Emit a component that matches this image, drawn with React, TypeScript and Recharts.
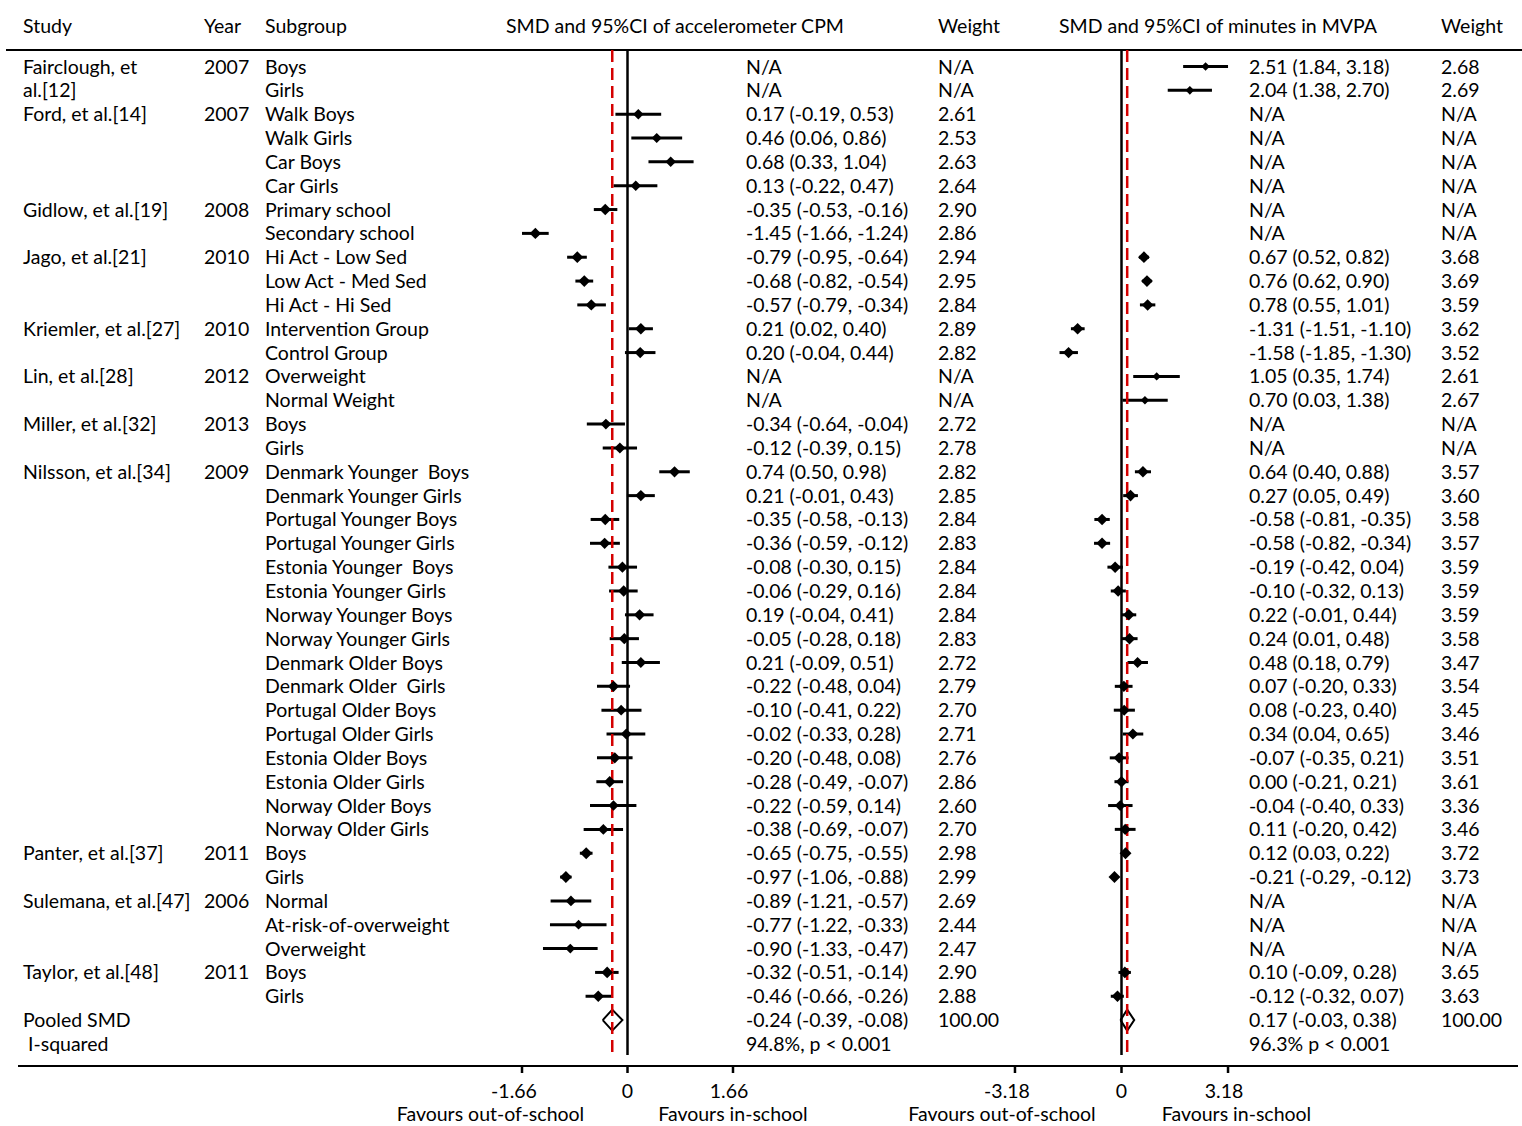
import React from 'react';
import { ComposedChart, Scatter, Line, XAxis, YAxis, ErrorBar, ReferenceLine } from 'recharts';

// ---------------- data ----------------
const headers = {
  study: 'Study',
  year: 'Year',
  subgroup: 'Subgroup',
  cpm: 'SMD and 95%CI of accelerometer CPM',
  weight: 'Weight',
  mvpa: 'SMD and 95%CI of minutes in MVPA',
};

const studies = [
  { lines: ['Fairclough, et', 'al.[12]'], year: '2007', row: 0 },
  { lines: ['Ford, et al.[14]'], year: '2007', row: 2 },
  { lines: ['Gidlow, et al.[19]'], year: '2008', row: 6 },
  { lines: ['Jago, et al.[21]'], year: '2010', row: 8 },
  { lines: ['Kriemler, et al.[27]'], year: '2010', row: 11 },
  { lines: ['Lin, et al.[28]'], year: '2012', row: 13 },
  { lines: ['Miller, et al.[32]'], year: '2013', row: 15 },
  { lines: ['Nilsson, et al.[34]'], year: '2009', row: 17 },
  { lines: ['Panter, et al.[37]'], year: '2011', row: 33 },
  { lines: ['Sulemana, et al.[47]'], year: '2006', row: 35 },
  { lines: ['Taylor, et al.[48]'], year: '2011', row: 38 },
];

const subgroups = [
  'Boys', 'Girls',
  'Walk Boys', 'Walk Girls', 'Car Boys', 'Car Girls',
  'Primary school', 'Secondary school',
  'Hi Act - Low Sed', 'Low Act - Med Sed', 'Hi Act - Hi Sed',
  'Intervention Group', 'Control Group',
  'Overweight', 'Normal Weight',
  'Boys', 'Girls',
  'Denmark Younger  Boys', 'Denmark Younger Girls', 'Portugal Younger Boys', 'Portugal Younger Girls',
  'Estonia Younger  Boys', 'Estonia Younger Girls', 'Norway Younger Boys', 'Norway Younger Girls',
  'Denmark Older Boys', 'Denmark Older  Girls', 'Portugal Older Boys', 'Portugal Older Girls',
  'Estonia Older Boys', 'Estonia Older Girls', 'Norway Older Boys', 'Norway Older Girls',
  'Boys', 'Girls',
  'Normal', 'At-risk-of-overweight', 'Overweight',
  'Boys', 'Girls',
];

const summaryLabels = ['Pooled SMD', ' I-squared'];

type Est = [number, number, number, number] | null; // [smd, lower, upper, weight]

const cpmRows: Est[] = [
  null, null,
  [0.17, -0.19, 0.53, 2.61],
  [0.46, 0.06, 0.86, 2.53],
  [0.68, 0.33, 1.04, 2.63],
  [0.13, -0.22, 0.47, 2.64],
  [-0.35, -0.53, -0.16, 2.90],
  [-1.45, -1.66, -1.24, 2.86],
  [-0.79, -0.95, -0.64, 2.94],
  [-0.68, -0.82, -0.54, 2.95],
  [-0.57, -0.79, -0.34, 2.84],
  [0.21, 0.02, 0.40, 2.89],
  [0.20, -0.04, 0.44, 2.82],
  null, null,
  [-0.34, -0.64, -0.04, 2.72],
  [-0.12, -0.39, 0.15, 2.78],
  [0.74, 0.50, 0.98, 2.82],
  [0.21, -0.01, 0.43, 2.85],
  [-0.35, -0.58, -0.13, 2.84],
  [-0.36, -0.59, -0.12, 2.83],
  [-0.08, -0.30, 0.15, 2.84],
  [-0.06, -0.29, 0.16, 2.84],
  [0.19, -0.04, 0.41, 2.84],
  [-0.05, -0.28, 0.18, 2.83],
  [0.21, -0.09, 0.51, 2.72],
  [-0.22, -0.48, 0.04, 2.79],
  [-0.10, -0.41, 0.22, 2.70],
  [-0.02, -0.33, 0.28, 2.71],
  [-0.20, -0.48, 0.08, 2.76],
  [-0.28, -0.49, -0.07, 2.86],
  [-0.22, -0.59, 0.14, 2.60],
  [-0.38, -0.69, -0.07, 2.70],
  [-0.65, -0.75, -0.55, 2.98],
  [-0.97, -1.06, -0.88, 2.99],
  [-0.89, -1.21, -0.57, 2.69],
  [-0.77, -1.22, -0.33, 2.44],
  [-0.90, -1.33, -0.47, 2.47],
  [-0.32, -0.51, -0.14, 2.90],
  [-0.46, -0.66, -0.26, 2.88],
];

const mvpaRows: Est[] = [
  [2.51, 1.84, 3.18, 2.68],
  [2.04, 1.38, 2.70, 2.69],
  null, null, null, null, null, null,
  [0.67, 0.52, 0.82, 3.68],
  [0.76, 0.62, 0.90, 3.69],
  [0.78, 0.55, 1.01, 3.59],
  [-1.31, -1.51, -1.10, 3.62],
  [-1.58, -1.85, -1.30, 3.52],
  [1.05, 0.35, 1.74, 2.61],
  [0.70, 0.03, 1.38, 2.67],
  null, null,
  [0.64, 0.40, 0.88, 3.57],
  [0.27, 0.05, 0.49, 3.60],
  [-0.58, -0.81, -0.35, 3.58],
  [-0.58, -0.82, -0.34, 3.57],
  [-0.19, -0.42, 0.04, 3.59],
  [-0.10, -0.32, 0.13, 3.59],
  [0.22, -0.01, 0.44, 3.59],
  [0.24, 0.01, 0.48, 3.58],
  [0.48, 0.18, 0.79, 3.47],
  [0.07, -0.20, 0.33, 3.54],
  [0.08, -0.23, 0.40, 3.45],
  [0.34, 0.04, 0.65, 3.46],
  [-0.07, -0.35, 0.21, 3.51],
  [0.00, -0.21, 0.21, 3.61],
  [-0.04, -0.40, 0.33, 3.36],
  [0.11, -0.20, 0.42, 3.46],
  [0.12, 0.03, 0.22, 3.72],
  [-0.21, -0.29, -0.12, 3.73],
  null, null, null,
  [0.10, -0.09, 0.28, 3.65],
  [-0.12, -0.32, 0.07, 3.63],
];

const cpmPooled: [number, number, number, number] = [-0.24, -0.39, -0.08, 100.0];
const mvpaPooled: [number, number, number, number] = [0.17, -0.03, 0.38, 100.0];
const cpmHet = '94.8%, p < 0.001';
const mvpaHet = '96.3% p < 0.001';

const cpmTicks = [-1.66, 0, 1.66];
const mvpaTicks = [-3.18, 0, 3.18];
const favourLabels = ['Favours out-of-school', 'Favours in-school'];

// ---------------- layout ----------------
const W = 1522;
const H = 1126;
const FONT = 'Lato, "Noto Sans", sans-serif';
const FS = 19.5;
const ROW0 = 66.5;
const ROWH = 23.84;
const TOP = 50;
const BOTTOM = 1066;
const XAXIS_H = 30;
const BASE = 7;
const NROWS = subgroups.length; // 40
const POOLED_ROW = NROWS;
const HET_ROW = NROWS + 1;
const yDomain: [number, number] = [(TOP - ROW0) / ROWH, (BOTTOM - ROW0) / ROWH];
const rowY = (r: number) => ROW0 + r * ROWH;
const RED = '#d40000';

const fmt = (v: number) => v.toFixed(2);
const estText = (e: Est) => (e ? `${fmt(e[0])} (${fmt(e[1])}, ${fmt(e[2])})` : 'N/A');
const wText = (e: Est) => (e ? fmt(e[3]) : 'N/A');

const makeDiamond = (k: number) => (props: any) => {
  const { cx, cy, payload } = props;
  if (cx == null || cy == null) return <g />;
  const h = k * payload.w;
  return (
    <polygon
      points={`${cx - h},${cy} ${cx},${cy - h} ${cx + h},${cy} ${cx},${cy + h}`}
      fill="#000"
      stroke="none"
    />
  );
};

const Tick = (props: any) => {
  const { x, y, payload } = props;
  const v = payload.value;
  const dx = v < 0 ? -8 : v > 0 ? -4 : 0;
  return (
    <text x={x + dx} y={y + 23} textAnchor="middle" fontFamily={FONT} fontSize={FS} fill="#000">
      {String(v)}
    </text>
  );
};

interface PanelProps {
  rows: Est[];
  pooled: [number, number, number, number];
  ticks: number[];
  domain: [number, number];
  plotLeft: number;
  plotRight: number;
  k: number;
}

function ForestPanel({ rows, pooled, ticks, domain, plotLeft, plotRight, k }: PanelProps) {
  const pts = rows
    .map((r, i) => (r ? { x: r[0], y: i, err: [r[0] - r[1], r[2] - r[0]], w: r[3] } : null))
    .filter(Boolean) as any[];
  const dh = 0.44;
  const dia = [
    { x: pooled[1], y: POOLED_ROW },
    { x: pooled[0], y: POOLED_ROW - dh },
    { x: pooled[2], y: POOLED_ROW },
    { x: pooled[0], y: POOLED_ROW + dh },
    { x: pooled[1], y: POOLED_ROW },
  ];
  const zeroEnd = (1055 - ROW0) / ROWH;
  const redEnd = (1052 - ROW0) / ROWH;
  return (
    <div style={{ position: 'absolute', left: 0, top: 0, pointerEvents: 'none' }}>
      <ComposedChart
        width={W}
        height={H}
        margin={{ top: TOP, bottom: H - BOTTOM - XAXIS_H, left: plotLeft, right: W - plotRight }}
      >
        <XAxis
          type="number"
          dataKey="x"
          domain={domain}
          ticks={ticks}
          interval={0}
          height={XAXIS_H}
          allowDataOverflow
          axisLine={false}
          tickSize={7}
          tickLine={{ stroke: '#000', strokeWidth: 2.5 }}
          tick={<Tick />}
        />
        <YAxis type="number" dataKey="y" domain={yDomain} reversed hide width={0} allowDataOverflow />
        <Scatter data={pts} shape={makeDiamond(k)} isAnimationActive={false}>
          <ErrorBar dataKey="err" direction="x" width={0} stroke="#000" strokeWidth={3} isAnimationActive={false} />
        </Scatter>
        <Line
          data={dia}
          dataKey="y"
          type="linear"
          stroke="#000"
          strokeWidth={2}
          dot={false}
          activeDot={false}
          isAnimationActive={false}
          strokeLinejoin="miter"
        />
        <ReferenceLine
          segment={[{ x: 0, y: yDomain[0] }, { x: 0, y: zeroEnd }]}
          stroke="#000"
          strokeWidth={2.5}
          ifOverflow="visible"
        />
        <ReferenceLine
          segment={[{ x: pooled[0], y: yDomain[0] }, { x: pooled[0], y: redEnd }]}
          stroke={RED}
          strokeWidth={2.5}
          strokeDasharray="12 6"
          ifOverflow="visible"
        />
      </ComposedChart>
    </div>
  );
}

const Txt = ({ x, y, children, anchor = 'start' }: any) => (
  <text
    x={x}
    y={y}
    textAnchor={anchor}
    fontFamily={FONT}
    fontSize={FS}
    fill="#000"
    style={{ whiteSpace: 'pre' }}
  >
    {children}
  </text>
);

const COL = { study: 23, year: 204, sub: 265, cpm: 746, cpmW: 938, mvpa: 1249, mvpaW: 1441 };

function TextLayer() {
  const hy = 33;
  const rb = (r: number) => rowY(r) + BASE;
  return (
    <svg width={W} height={H} style={{ position: 'absolute', left: 0, top: 0 }}>
      <Txt x={COL.study} y={hy}>{headers.study}</Txt>
      <Txt x={COL.year} y={hy}>{headers.year}</Txt>
      <Txt x={COL.sub} y={hy}>{headers.subgroup}</Txt>
      <Txt x={506} y={hy}>{headers.cpm}</Txt>
      <Txt x={COL.cpmW} y={hy}>{headers.weight}</Txt>
      <Txt x={1059} y={hy}>{headers.mvpa}</Txt>
      <Txt x={COL.mvpaW} y={hy}>{headers.weight}</Txt>

      <line x1={6} x2={1522} y1={TOP} y2={TOP} stroke="#000" strokeWidth={2} />
      <line x1={18} x2={1518} y1={BOTTOM} y2={BOTTOM} stroke="#000" strokeWidth={2} />

      {studies.map((s, i) => (
        <g key={i}>
          {s.lines.map((l, j) => (
            <Txt key={j} x={COL.study} y={rb(s.row + j)}>{l}</Txt>
          ))}
          <Txt x={COL.year} y={rb(s.row)}>{s.year}</Txt>
        </g>
      ))}
      {subgroups.map((s, i) => (
        <Txt key={i} x={COL.sub} y={rb(i)}>{s}</Txt>
      ))}
      {cpmRows.map((e, i) => (
        <g key={i}>
          <Txt x={COL.cpm} y={rb(i)}>{estText(e)}</Txt>
          <Txt x={COL.cpmW} y={rb(i)}>{wText(e)}</Txt>
        </g>
      ))}
      {mvpaRows.map((e, i) => (
        <g key={i}>
          <Txt x={COL.mvpa} y={rb(i)}>{estText(e)}</Txt>
          <Txt x={COL.mvpaW} y={rb(i)}>{wText(e)}</Txt>
        </g>
      ))}
      <Txt x={COL.study} y={rb(POOLED_ROW)}>{summaryLabels[0]}</Txt>
      <Txt x={COL.study} y={rb(HET_ROW)}>{summaryLabels[1]}</Txt>
      <Txt x={COL.cpm} y={rb(POOLED_ROW)}>{estText(cpmPooled)}</Txt>
      <Txt x={COL.cpmW} y={rb(POOLED_ROW)}>{wText(cpmPooled)}</Txt>
      <Txt x={COL.cpm} y={rb(HET_ROW)}>{cpmHet}</Txt>
      <Txt x={COL.mvpa} y={rb(POOLED_ROW)}>{estText(mvpaPooled)}</Txt>
      <Txt x={COL.mvpaW} y={rb(POOLED_ROW)}>{wText(mvpaPooled)}</Txt>
      <Txt x={COL.mvpa} y={rb(HET_ROW)}>{mvpaHet}</Txt>

      <Txt x={490.5} y={1121} anchor="middle">{favourLabels[0]}</Txt>
      <Txt x={733} y={1121} anchor="middle">{favourLabels[1]}</Txt>
      <Txt x={1002} y={1121} anchor="middle">{favourLabels[0]}</Txt>
      <Txt x={1236.5} y={1121} anchor="middle">{favourLabels[1]}</Txt>
    </svg>
  );
}

export default function App() {
  return (
    <div style={{ position: 'absolute', left: 0, top: 0, width: W, height: H, background: '#fff' }}>
      <TextLayer />
      <ForestPanel
        rows={cpmRows}
        pooled={cpmPooled}
        ticks={cpmTicks}
        domain={[-2, 2]}
        plotLeft={627.5 - 2 * 63.55}
        plotRight={627.5 + 2 * 63.55}
        k={2.0}
      />
      <ForestPanel
        rows={mvpaRows}
        pooled={mvpaPooled}
        ticks={mvpaTicks}
        domain={[-4, 4]}
        plotLeft={1121.5 - 4 * 33.5}
        plotRight={1121.5 + 4 * 33.5}
        k={1.6}
      />
    </div>
  );
}
